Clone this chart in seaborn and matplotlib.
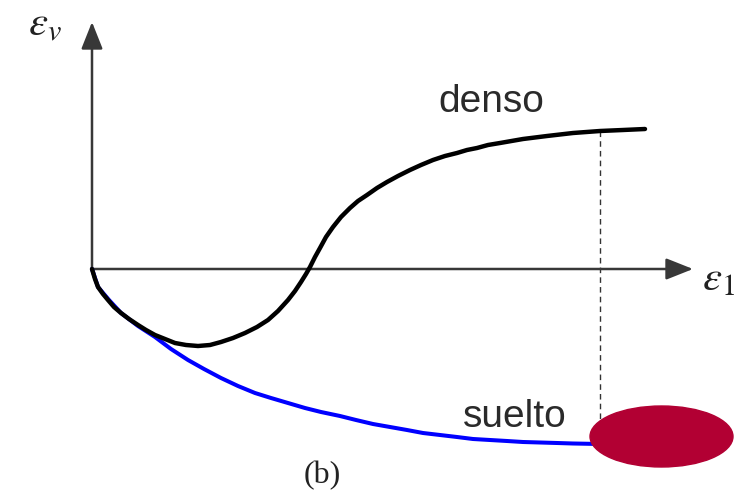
import matplotlib
matplotlib.use("Agg")
import matplotlib.pyplot as plt
from matplotlib.patches import Ellipse, FancyArrowPatch
import seaborn as sns

# Strain curves (horizontal axis: axial strain, vertical axis: volumetric strain)
dense_x = [0, 3, 6, 11, 16, 22, 29, 37, 46, 54, 63, 73, 83, 94, 106, 118, 129,
           141, 153, 165, 176, 186, 196, 203, 209, 214, 218, 223, 228, 234,
           241, 249, 258, 266, 275, 285, 295, 306, 318, 329, 341, 353, 365,
           375, 385, 396, 408, 431, 455, 481, 508, 531, 553]
dense_y = [0, -10, -18, -25, -31, -38, -44, -50, -56, -61, -66, -70, -74, -76,
           -77, -76, -73, -69, -64, -58, -51, -42, -31, -22, -13, -5, 2, 12,
           21, 32, 42, 52, 61, 68, 74, 81, 87, 93, 99, 104, 109, 113, 116,
           119, 121, 124, 126, 130, 133, 136, 138, 139, 140]

loose_x = [0, 6, 17, 29, 46, 63, 79, 96, 112, 129, 146, 163, 179, 196, 213,
           229, 248, 264, 281, 298, 315, 331, 348, 365, 381, 398, 415, 431,
           448, 465, 481, 508]
loose_y = [0, -18, -31, -44, -57, -68, -80, -91, -100, -109, -117, -124, -129,
           -134, -139, -143, -147, -151, -155, -158, -161, -164, -166, -168,
           -170, -171, -172, -173, -173.5, -174, -174.5, -175]

dense_label = "denso"
loose_label = "suelto"
panel_label = "(b)"
x_label = r"$\varepsilon_1$"
y_label = r"$\varepsilon_v$"

sns.set_style("white")
plt.rcParams["mathtext.fontset"] = "stix"

fig = plt.figure(figsize=(7.51, 4.91), dpi=100)
ax = fig.add_axes([0, 0, 1, 1])
ax.set_xlim(-92, 659)
ax.set_ylim(-222, 269)
ax.axis("off")

axis_color = "#383838"
for end in [(0, 247), (601, 0)]:
    arr = FancyArrowPatch((0, 0), end,
                          arrowstyle="-|>,head_length=0.83,head_width=0.33",
                          mutation_scale=20, color=axis_color, lw=1.8,
                          shrinkA=0, shrinkB=0, zorder=2)
    ax.add_patch(arr)

# Peak-state reference line
ax.plot([dense_x[-3], dense_x[-3]], [dense_y[-3], loose_y[-1]],
        color="#333333", lw=1.0, ls=(0, (4, 3)), zorder=1)

sns.lineplot(x=loose_x, y=loose_y, sort=False, estimator=None, ax=ax,
             color="#0000ff", lw=2.9, zorder=3,
             solid_joinstyle="round", solid_capstyle="round")
sns.lineplot(x=dense_x, y=dense_y, sort=False, estimator=None, ax=ax,
             color="black", lw=3.2, zorder=4,
             solid_joinstyle="round", solid_capstyle="round")

ax.add_patch(Ellipse((569.5, -167.5), 143, 61, color="#b20033", zorder=5))

ax.text(399, 157, dense_label, ha="center", va="baseline", fontsize=28,
        family="Liberation Sans", color="#2a2a2a")
ax.text(423, -158, loose_label, ha="center", va="baseline", fontsize=28,
        family="Liberation Sans", color="#2a2a2a")
ax.text(230, -214, panel_label, ha="center", va="baseline", fontsize=23,
        family="Liberation Serif", color="#222222")
ax.text(-47, 245, y_label, ha="center", va="center", fontsize=31, color="#222222")
ax.text(626, -9, x_label, ha="center", va="center", fontsize=31, color="#222222")

fig.savefig("out.png", dpi=100)
